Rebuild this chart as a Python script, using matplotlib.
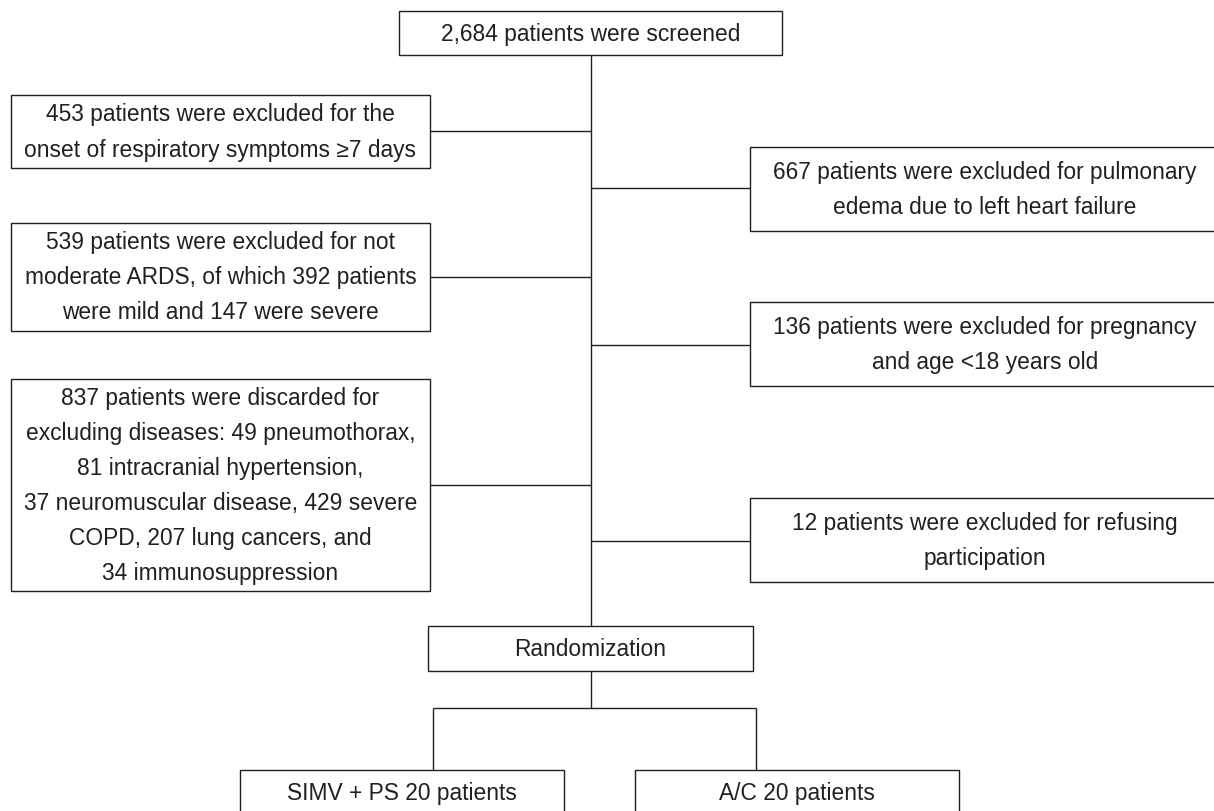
import matplotlib.pyplot as plt
from matplotlib.patches import Rectangle

# box texts, one list of lines per box
screened = ["2,684 patients were screened"]
left_exclusions = [
    ["453 patients were excluded for the", "onset of respiratory symptoms \u22657 days"],
    ["539 patients were excluded for not", "moderate ARDS, of which 392 patients",
     "were mild and 147 were severe"],
    ["837 patients were discarded for", "excluding diseases: 49 pneumothorax,",
     "81 intracranial hypertension,", "37 neuromuscular disease, 429 severe",
     "COPD, 207 lung cancers, and", "34 immunosuppression"],
]
right_exclusions = [
    ["667 patients were excluded for pulmonary", "edema due to left heart failure"],
    ["136 patients were excluded for pregnancy", "and age <18 years old"],
    ["12 patients were excluded for refusing", "participation"],
]
randomization = ["Randomization"]
arms = [["SIMV + PS 20 patients"], ["A/C 20 patients"]]

INK = "#231f20"
FONT = "Liberation Sans"
SIZE = 16.4
LINE_GAP = 35
LW = 1.0

fig = plt.figure(figsize=(12.14, 8.12), dpi=100)
ax = fig.add_axes([0, 0, 1, 1])
ax.set_xlim(0, 1214)
ax.set_ylim(812, 0)
ax.axis("off")


def box(x0, y0, x1, y1, lines, cx=None):
    ax.add_patch(Rectangle((x0, y0), x1 - x0, y1 - y0, fill=False,
                           edgecolor=INK, linewidth=LW))
    if cx is None:
        cx = (x0 + x1) / 2
    cy = (y0 + y1) / 2
    n = len(lines)
    for i, line in enumerate(lines):
        y = cy + (i - (n - 1) / 2) * LINE_GAP
        ax.text(cx, y, line, ha="center", va="center", fontsize=SIZE,
                family=FONT, color=INK)


def seg(xs, ys):
    ax.plot(xs, ys, color=INK, linewidth=LW, solid_capstyle="butt")


spine_x = 591
box(399, 12, 782, 56, screened)
seg([spine_x, spine_x], [56, 627])

left_rows = [(96, 169, 132), (224, 332, 278), (380, 592, 486)]
for (y0, y1, yc), lines in zip(left_rows, left_exclusions):
    box(11, y0, 430, y1, lines)
    seg([430, spine_x], [yc, yc])

# right boxes run off the right edge of the picture
right_rows = [(148, 232, 189), (303, 387, 346), (499, 583, 542)]
for (y0, y1, yc), lines in zip(right_rows, right_exclusions):
    box(750, y0, 1260, y1, lines, cx=985)
    seg([spine_x, 750], [yc, yc])

box(428, 627, 753, 672, randomization)
seg([spine_x, spine_x], [672, 709])
seg([433, 756], [709, 709])
seg([433, 433], [709, 771])
seg([756, 756], [709, 771])
box(240, 771, 564, 816, arms[0])
box(635, 771, 959, 816, arms[1])

fig.savefig("out.png", dpi=100)
